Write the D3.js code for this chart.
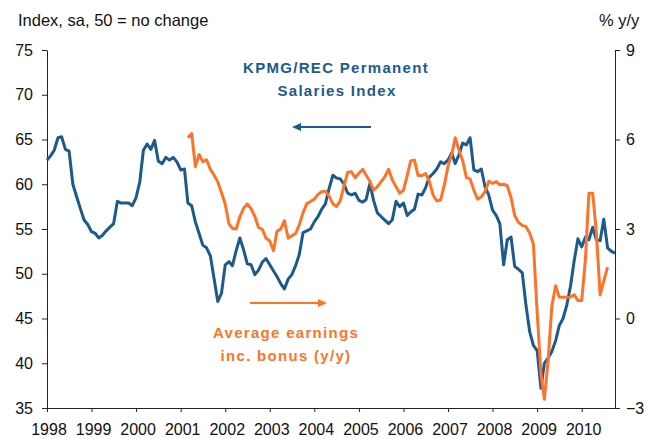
<!DOCTYPE html>
<html><head><meta charset="utf-8">
<script src="https://cdn.jsdelivr.net/npm/d3@7"></script>
<style>
body{margin:0;background:#fff}
svg{display:block}
text{font-family:"Liberation Sans",Arial,Helvetica,sans-serif}
</style>
</head><body>
<svg id="chart" width="658" height="439"></svg>
<script>
// ---------- data ----------
const years = ["1998","1999","2000","2001","2002","2003","2004","2005","2006","2007","2008","2009","2010"];
const leftTicks = [35,40,45,50,55,60,65,70,75];
const rightTicks = [-3,0,3,6,9];

// KPMG/REC Permanent Salaries Index, monthly from Jan 1998 (left axis)
const salariesStart = [1998, 0];
const salaries = [
  62.7,63.2,63.8,65.2,65.3,63.9,63.7,60.0,58.6,57.3,56.0,55.5,
  54.7,54.5,54.0,54.3,54.8,55.2,55.6,58.1,57.9,57.9,57.9,57.6,
  58.5,60.3,63.8,64.5,63.9,64.9,62.6,62.3,63.0,62.7,63.0,62.5,
  61.6,61.7,57.9,57.6,55.8,54.5,53.2,52.9,52.0,49.5,46.9,47.8,
  51.0,51.35,50.9,52.6,54.0,52.65,51.1,51.0,49.9,50.4,51.3,51.7,
  51.0,50.3,49.7,48.9,48.3,49.4,49.9,50.9,52.2,54.6,54.8,55.0,
  55.8,56.4,57.2,57.8,59.5,61.0,60.7,60.6,60.0,59.0,58.8,59.0,
  58.2,58.0,58.3,60.1,58.2,56.8,56.4,56.0,55.6,56.0,58.1,57.5,
  57.9,56.5,56.9,57.2,58.9,58.8,59.6,60.8,61.2,61.7,62.5,62.3,
  62.7,63.5,62.3,63.3,64.6,64.4,65.2,61.6,61.4,61.7,59.7,58.8,
  57.1,56.5,55.6,51.0,53.8,54.1,50.8,50.5,50.1,46.5,43.5,42.0,
  41.4,37.2,40.0,40.6,41.3,42.5,44.2,45.0,46.5,48.6,51.5,53.9,
  53.0,54.1,53.8,55.2,53.8,53.7,56.1,52.9,52.5,52.3
];

// Average earnings inc. bonus, % y/y, monthly from Mar 2001 (right axis)
const earningsStart = [2001, 2];
const earnings = [
  6.06,6.2,5.09,5.5,5.26,5.32,5.0,4.81,4.58,4.22,
  3.83,3.17,3.02,3.0,3.41,3.70,3.84,3.68,3.42,3.05,2.99,2.69,
  2.6,2.27,2.92,3.0,3.28,2.69,2.77,2.85,3.15,3.55,3.85,3.92,
  4.0,4.16,4.25,4.27,4.1,3.85,3.75,3.95,4.45,4.9,4.92,4.72,
  4.87,5.0,4.8,4.6,4.3,4.42,4.58,4.75,5.0,4.65,4.42,4.2,
  4.3,4.8,5.28,5.31,4.79,4.79,4.86,4.6,4.14,3.94,3.97,4.45,
  5.1,5.5,6.06,5.65,5.3,4.72,4.68,4.3,4.0,4.08,4.25,4.6,
  4.53,4.59,4.48,4.5,4.45,4.05,3.45,3.22,3.12,3.08,2.86,2.5,
  0.2,-1.85,-2.71,-1.4,0.4,1.1,0.72,0.71,0.71,0.72,0.79,0.6,
  0.6,2.0,4.2,4.2,2.9,0.79,1.25,1.72
];

// ---------- chart ----------
const blue = "#1c5a8c", orange = "#ff7328", axisCol = "#222";
const svg = d3.select("#chart");
const mLeft = 47, mRight = 615, mTop = 50, mBottom = 408;

const x = d3.scaleTime()
  .domain([new Date(1998,0,1), new Date(2010,9,1)])
  .range([mLeft, mRight]);
const yL = d3.scaleLinear().domain([35,75]).range([mBottom, mTop]);
const yR = d3.scaleLinear().domain([-3,9]).range([mBottom, mTop]);

const salPts = salaries.map((v,i)=>({d:new Date(salariesStart[0], salariesStart[1]+i, 1), v}));
const earnPts = earnings.map((v,i)=>({d:new Date(earningsStart[0], earningsStart[1]+i, 1), v}));

// axes
const gL = svg.append("g").attr("transform",`translate(${mLeft},0)`)
  .call(d3.axisLeft(yL).tickValues(leftTicks).tickSize(5).tickSizeOuter(0).tickPadding(9));
const gR = svg.append("g").attr("transform",`translate(${mRight},0)`)
  .call(d3.axisRight(yR).tickValues(rightTicks).tickSize(5).tickSizeOuter(0).tickPadding(6));
const yearDates = years.map(y=>new Date(+y,0,1));
const gB = svg.append("g").attr("transform",`translate(0,${mBottom})`)
  .call(d3.axisBottom(x).tickValues(yearDates).tickFormat(d3.timeFormat("%Y")).tickSize(4).tickSizeOuter(0).tickPadding(12));
gB.selectAll(".tick text").attr("dx", 1.5);

[gL,gR,gB].forEach(g=>{
  g.selectAll("path.domain").attr("stroke", axisCol).attr("stroke-width",1);
  g.selectAll(".tick line").attr("stroke", axisCol);
  g.selectAll(".tick text").attr("fill","#111").style("font-size","16px")
   .style("font-family",'"Liberation Sans",Arial,sans-serif');
});

// lines
const lineL = d3.line().x(d=>x(d.d)).y(d=>yL(d.v));
const lineR = d3.line().x(d=>x(d.d)).y(d=>yR(d.v));
svg.append("path").datum(salPts).attr("d",lineL)
  .attr("fill","none").attr("stroke",blue).attr("stroke-width",3).attr("stroke-linejoin","round");
svg.append("path").datum(earnPts).attr("d",lineR)
  .attr("fill","none").attr("stroke",orange).attr("stroke-width",3).attr("stroke-linejoin","round");

// axis titles
svg.append("text").attr("x",18).attr("y",25.5).attr("fill","#111")
  .style("font-size","16.5px").text("Index, sa, 50 = no change");
svg.append("text").attr("x",599).attr("y",25.5).attr("fill","#111")
  .style("font-size","16.5px").text("% y/y");

// annotations
const ann = (txt, cx, by, col) => svg.append("text").attr("x",cx).attr("y",by)
  .attr("text-anchor","middle").attr("fill",col)
  .style("font-size","15px").style("font-weight","bold").style("letter-spacing","1.3px").text(txt);
ann("KPMG/REC Permanent", 336, 72.5, blue);
ann("Salaries Index", 337, 96, blue);
ann("Average earnings", 286, 338, orange);
ann("inc. bonus (y/y)", 286, 361, orange);

// arrows
svg.append("line").attr("x1",371).attr("x2",299).attr("y1",127).attr("y2",127)
  .attr("stroke",blue).attr("stroke-width",2);
svg.append("path").attr("d","M292,127 L301,123 L301,131 Z").attr("fill",blue);
svg.append("line").attr("x1",250).attr("x2",320).attr("y1",303).attr("y2",303)
  .attr("stroke",orange).attr("stroke-width",2);
svg.append("path").attr("d","M327,303 L318,299 L318,307 Z").attr("fill",orange);
</script>
</body></html>
